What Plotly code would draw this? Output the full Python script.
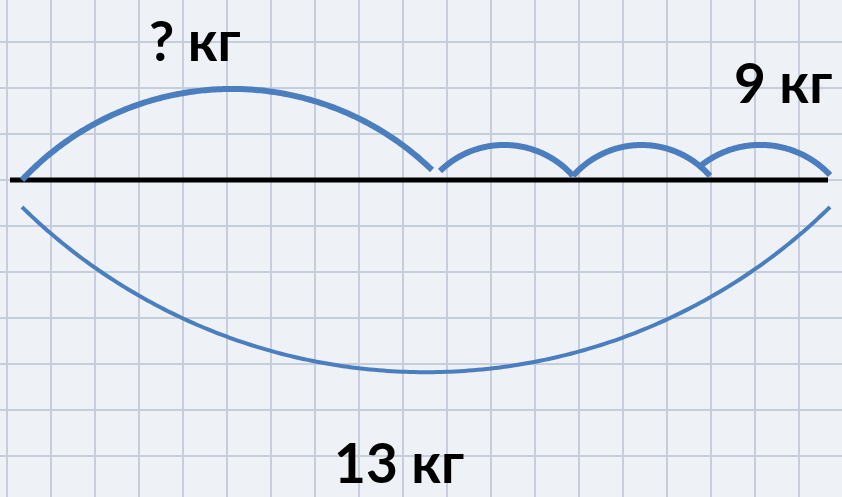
"""
Segment diagram on squared paper: ? kg + three jumps, 9 kg, 13 kg total.
"""

import numpy as np
import plotly.graph_objects as go

# arcs: start point, top (or bottom) point, end point, in picture pixels
arc_names = ["big", "jump1", "jump2", "jump3", "total"]
arc_start = [(22, 180), (440, 171), (573, 176), (698, 168), (22, 207)]
arc_peak = [(226, 89), (507, 145), (640, 145), (765, 145), (440, 372)]
arc_end = [(432, 170), (573, 176), (710, 176), (830, 175), (830, 207)]
arc_width = [6, 6, 6, 6, 4]

base_x = [10, 828]
base_y = [180, 180]

labels = ["? кг", "9 кг", "13 кг"]
label_x = [195, 783, 399]
label_y = [40, 82, 462]

BLUE = "#4a7ebf"
PAPER = "#eef2f7"


def arc_points(p1, p2, p3, n=200):
    """Points of the circle arc through three points."""
    (x1, y1), (x2, y2), (x3, y3) = p1, p2, p3
    d = 2 * (x1 * (y2 - y3) + x2 * (y3 - y1) + x3 * (y1 - y2))
    ux = ((x1**2 + y1**2) * (y2 - y3) + (x2**2 + y2**2) * (y3 - y1)
          + (x3**2 + y3**2) * (y1 - y2)) / d
    uy = ((x1**2 + y1**2) * (x3 - x2) + (x2**2 + y2**2) * (x1 - x3)
          + (x3**2 + y3**2) * (x2 - x1)) / d
    r = np.hypot(x1 - ux, y1 - uy)
    a1 = np.arctan2(y1 - uy, x1 - ux)
    a2 = np.arctan2(y2 - uy, x2 - ux)
    a3 = np.arctan2(y3 - uy, x3 - ux)
    # go from a1 to a3 passing a2
    span = (a3 - a1) % (2 * np.pi)
    if (a2 - a1) % (2 * np.pi) > span:
        span -= 2 * np.pi
    t = a1 + np.linspace(0, span, n)
    return ux + r * np.cos(t), uy + r * np.sin(t)


fig = go.Figure()

fig.add_trace(go.Scatter(
    x=base_x, y=base_y, mode="lines",
    line={"color": "black", "width": 5}, hoverinfo="skip",
))

for name, s, p, e, w in zip(arc_names, arc_start, arc_peak, arc_end, arc_width):
    xs, ys = arc_points(s, p, e)
    fig.add_trace(go.Scatter(
        x=xs, y=ys, mode="lines", name=name,
        line={"color": BLUE, "width": w, "simplify": False}, hoverinfo="skip",
    ))

for text, x, y in zip(labels, label_x, label_y):
    fig.add_annotation(
        x=x, y=y, text=f"<b>{text}</b>", showarrow=False,
        font={"family": "Lato, Open Sans, sans-serif", "size": 55, "color": "black"},
    )

grid = {"showgrid": True, "gridcolor": "#c6cedb", "gridwidth": 2,
        "zeroline": False, "showticklabels": False, "ticks": ""}

fig.update_layout(
    width=842, height=497,
    margin={"t": 0, "b": 0, "l": 0, "r": 0},
    paper_bgcolor=PAPER, plot_bgcolor=PAPER,
    showlegend=False,
    xaxis={**grid, "range": [0, 842], "tick0": 7, "dtick": 44},
    yaxis={**grid, "range": [497, 0], "tick0": 42, "dtick": 46},
)

fig.write_html(
    "out.html",
    config={"displayModeBar": False},
    post_script=f"document.body.style.margin='0';"
                f"document.body.style.overflow='hidden';"
                f"document.body.style.background='{PAPER}';",
)
